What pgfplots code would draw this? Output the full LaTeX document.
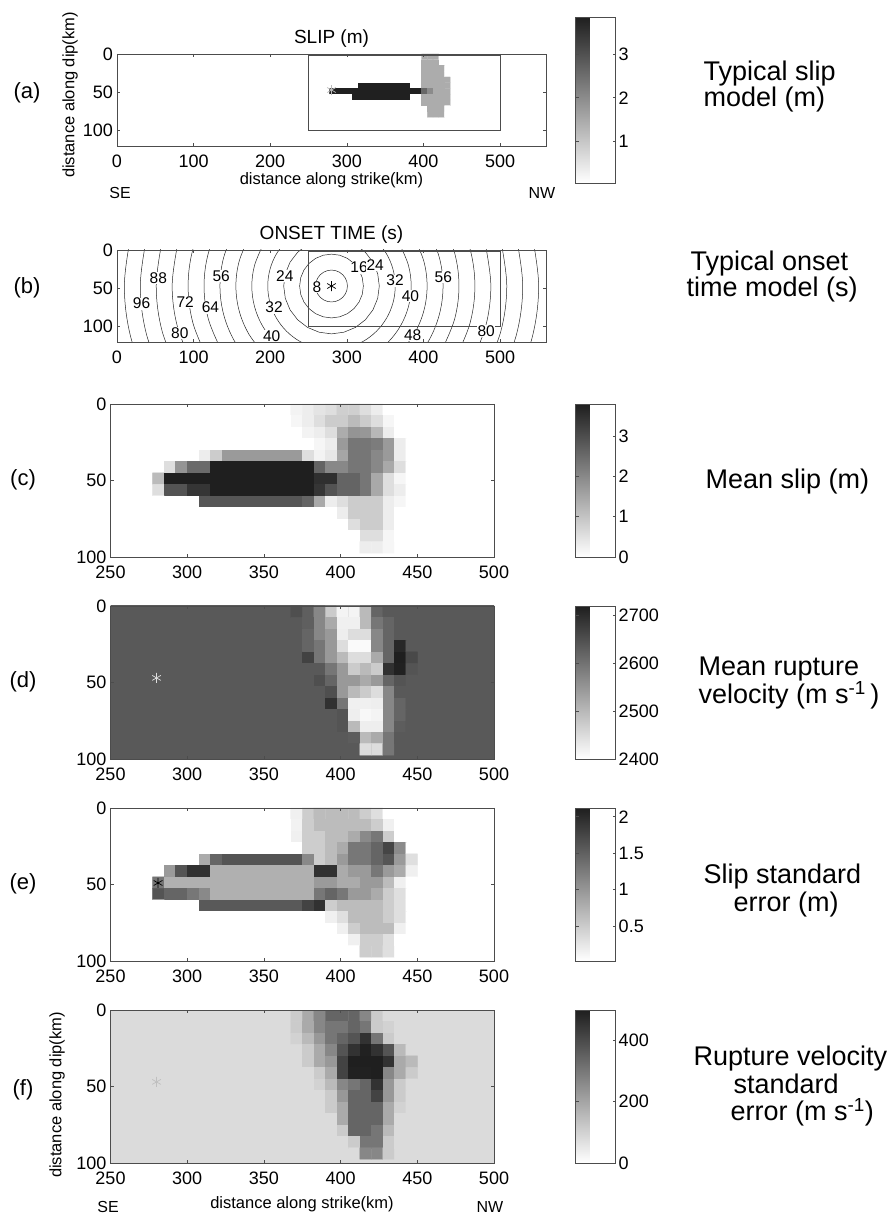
\documentclass[border=0pt]{standalone}
\usepackage{pgfplots}
\pgfplotsset{compat=1.18}
\usepackage{fontspec}
\setmainfont{Liberation Sans}
\newcommand\tk{\fontsize{18}{20}\selectfont}
\newcommand\lb{\fontsize{16.5}{18}\selectfont}
\newcommand\rt{\fontsize{27}{28}\selectfont}
\newcommand\pl{\fontsize{22}{24}\selectfont}
\newcommand\ti{\fontsize{19}{21}\selectfont}
\newcommand\cl{\fontsize{15.5}{17}\selectfont}
\newcommand\sw{\fontsize{16}{18}\selectfont}
\definecolor{axc}{gray}{0.3}
\pgfplotsset{
  colormap={sg}{gray(0cm)=(1) gray(1cm)=(0.12)},
  panel/.style={
    scale only axis, anchor=north west, enlargelimits=false, axis on top,
    y dir=reverse, tick align=inside, major tick length=3pt,
    axis line style={color=axc, line width=0.7pt},
    tick style={color=axc, line width=0.6pt},
    ticklabel style={font=\tk, inner sep=2pt},
    xticklabel style={yshift=-7pt},
    yticklabel style={xshift=-2pt},
    /pgf/number format/assume math mode=true,
    ytick={0,50,100}, colormap name=sg,
  },
  cb/.style 2 args={colorbar, colorbar style={
    at={(parent axis.north east)}, anchor=north west, xshift=#1, yshift=#2,
    scale only axis, width=40pt,
    axis line style={color=axc, line width=0.7pt},
    tick style={color=axc, line width=0.6pt},
    tick align=inside, major tick length=3pt,
    ytick pos=both, yticklabel pos=right,
    yticklabel style={font=\tk, inner sep=2pt, xshift=1pt},
    /pgf/number format/assume math mode=true,
    /pgf/number format/1000 sep={},
    scaled y ticks=false,
  }},
  cl/.style={color=black!85, line width=0.5pt, mark=none},
  cls/.style={color=black!85, line width=0.5pt, mark=none, smooth, tension=0.6},
  star/.style={only marks, mark=asterisk, mark size=5pt, mark options={line width=0.7pt}},
}
\begin{document}
\begin{tikzpicture}
\path[use as bounding box] (0pt,0pt) rectangle (889pt,1215pt);

% ---------------- (a) ----------------
\begin{axis}[panel, at={(117pt,1161pt)}, width=429pt, height=92pt,
  xmin=0, xmax=560, ymin=0, ymax=120, xtick={0,100,...,500},
  point meta min=0.05, point meta max=3.85,
  cb={21pt}{37pt}, colorbar style={height=166pt, ytick={1,2,3}}]
\addplot[matrix plot*, mesh/cols=21, point meta=\thisrow{c}] table[row sep=\\,
  x expr={281.25+7.5*(\coordindex-21*floor((\coordindex+0.5)/21))},
  y expr={3.75+7.5*floor((\coordindex+0.5)/21)}] {
c\\
0\\0\\0\\0\\0\\0\\0\\0\\0\\0\\0\\0\\0\\0\\0\\0\\1.45\\1.45\\1.45\\0\\0\\
0\\0\\0\\0\\0\\0\\0\\0\\0\\0\\0\\0\\0\\0\\0\\0\\1.45\\1.45\\1.45\\0\\0\\
0\\0\\0\\0\\0\\0\\0\\0\\0\\0\\0\\0\\0\\0\\0\\0\\1.45\\1.45\\1.45\\1.45\\0\\
0\\0\\0\\0\\0\\0\\0\\0\\0\\0\\0\\0\\0\\0\\0\\0\\1.45\\1.45\\1.45\\1.45\\0\\
0\\0\\0\\0\\0\\0\\0\\0\\0\\0\\0\\0\\0\\0\\0\\0\\1.45\\1.45\\1.45\\1.45\\1.45\\
0\\0\\0\\0\\0\\3.8\\3.8\\3.8\\3.8\\3.8\\3.8\\3.8\\3.8\\3.8\\0\\0\\1.45\\1.45\\1.45\\1.45\\1.45\\
3.8\\3.8\\3.8\\3.8\\3.8\\3.8\\3.8\\3.8\\3.8\\3.8\\3.8\\3.8\\3.8\\3.8\\3.8\\3.8\\2.6\\2.0\\1.45\\1.45\\1.45\\
0\\0\\0\\0\\3.8\\3.8\\3.8\\3.8\\3.8\\3.8\\3.8\\3.8\\3.8\\3.8\\0\\0\\1.45\\1.45\\1.45\\1.45\\1.45\\
0\\0\\0\\0\\0\\0\\0\\0\\0\\0\\0\\0\\0\\0\\0\\0\\1.45\\1.45\\1.45\\1.45\\1.45\\
0\\0\\0\\0\\0\\0\\0\\0\\0\\0\\0\\0\\0\\0\\0\\0\\0\\1.45\\1.45\\1.45\\0\\
0\\0\\0\\0\\0\\0\\0\\0\\0\\0\\0\\0\\0\\0\\0\\0\\0\\1.45\\1.45\\1.45\\0\\
};
\addplot[color=axc, line width=0.7pt, mark=none] coordinates {(250,1.5) (500,1.5) (500,100) (250,100) (250,1.5)};
\addplot[star, color=gray!55] coordinates {(280,47)};
\end{axis}

% ---------------- (b) ----------------
\begin{axis}[panel, at={(117pt,965pt)}, width=429pt, height=92pt,
  xmin=0, xmax=560, ymin=0, ymax=120, xtick={0,100,...,500}]
% 8 s
\addplot[cl] coordinates {(300.80,47.00) (300.09,52.38) (298.01,57.40) (294.71,61.71) (290.40,65.01) (285.38,67.09) (280.00,67.80) (274.62,67.09) (269.60,65.01) (265.29,61.71) (261.99,57.40) (259.91,52.38) (259.20,47.00) (259.91,41.62) (261.99,36.60) (265.29,32.29) (269.60,28.99) (274.62,26.91) (280.00,26.20) (285.38,26.91) (290.40,28.99) (294.71,32.29) (298.01,36.60) (300.09,41.62) (300.80,47.00)};
% 16 s
\addplot[cl] coordinates {(321.60,47.00) (320.18,57.77) (316.03,67.80) (309.42,76.42) (300.80,83.03) (290.77,87.18) (280.00,88.60) (269.23,87.18) (259.20,83.03) (250.58,76.42) (243.97,67.80) (239.82,57.77) (238.40,47.00) (239.82,36.23) (243.97,26.20) (250.58,17.58) (259.20,10.97) (269.23,6.82) (280.00,5.40) (290.77,6.82) (300.80,10.97) (309.42,17.58) (316.03,26.20) (320.18,36.23) (321.60,47.00)};
% 24 s
\addplot[cl] coordinates {(311.2,-7.04) (324.12,2.88) (334.04,15.8) (340.27,30.85) (342.4,47) (340.27,63.15) (334.04,78.2) (324.12,91.12) (311.2,101.04) (296.15,107.27) (280,109.4) (263.85,107.27) (248.8,101.04) (235.88,91.12) (225.96,78.2) (219.73,63.15) (217.6,47) (219.73,30.85) (225.96,15.8) (235.88,2.88) (248.8,-7.04)};
% 32 s
\addplot[cls] coordinates {(338.83,-11.83) (352.05,5.4) (360.36,25.47) (363.2,47) (360.36,68.53) (352.05,88.6) (338.83,105.83) (321.6,119.05) (301.53,127.36)};
\addplot[cls] coordinates {(221.17,-11.83) (207.95,5.4) (199.64,25.47) (196.8,47) (199.64,68.53) (207.95,88.6) (221.17,105.83) (238.4,119.05) (258.47,127.36)};
% 40 s
\addplot[cls] coordinates {(370.07,-5) (380.45,20.08) (384,47) (380.45,73.92) (370.07,99) (353.54,120.54) (332,137.07)};
\addplot[cls] coordinates {(189.93,-5) (179.55,20.08) (176,47) (179.55,73.92) (189.93,99) (206.46,120.54) (228,137.07)};
% 48 s
\addplot[cls] coordinates {(388.08,-15.4) (400.54,14.7) (404.8,47) (400.54,79.3) (388.08,109.4) (368.25,135.25)};
\addplot[cls] coordinates {(171.92,-15.4) (159.46,14.7) (155.2,47) (159.46,79.3) (171.92,109.4) (191.75,135.25)};
% 56 s
\addplot[cls] coordinates {(406.09,-25.8) (420.64,9.32) (425.6,47) (420.64,84.68) (406.09,119.8) (382.95,149.95)};
\addplot[cls] coordinates {(153.91,-25.8) (139.36,9.32) (134.4,47) (139.36,84.68) (153.91,119.8) (177.05,149.95)};
% 64 s
\addplot[cls] coordinates {(424.10,-36.2) (440.73,3.93) (446.4,47) (440.73,90.07) (424.10,130.2)};
\addplot[cls] coordinates {(135.90,-36.2) (119.27,3.93) (113.6,47) (119.27,90.07) (135.90,130.2)};
% 72 s
\addplot[cls] coordinates {(442.12,-46.6) (460.82,-1.45) (467.2,47) (460.82,95.45) (442.12,140.6)};
\addplot[cls] coordinates {(117.88,-46.6) (99.18,-1.45) (92.8,47) (99.18,95.45) (117.88,140.6)};
% 80 s
\addplot[cls] coordinates {(480.91,-6.83) (488,47) (480.91,100.83) (460.13,151)};
\addplot[cls] coordinates {(79.09,-6.83) (72,47) (79.09,100.83) (99.87,151)};
% 88 s
\addplot[cls] coordinates {(501.0,-12.21) (508.8,47) (501.0,106.21) (478.14,161.4)};
\addplot[cls] coordinates {(59.0,-12.21) (51.2,47) (59.0,106.21) (81.86,161.4)};
% 96 s
\addplot[cls] coordinates {(521.09,-17.6) (529.6,47) (521.09,111.6) (496.15,171.8)};
\addplot[cls] coordinates {(38.91,-17.6) (30.4,47) (38.91,111.6) (63.85,171.8)};
% 104 s
\addplot[cls] coordinates {(541.18,-22.98) (550.4,47) (541.18,116.98) (514.17,182.2)};
\addplot[cls] coordinates {(18.82,-22.98) (9.6,47) (18.82,116.98) (45.83,182.2)};
\addplot[color=axc, line width=0.7pt, mark=none] coordinates {(250,1.5) (500,1.5) (500,100) (250,100) (250,1.5)};
\addplot[draw=none, mark=none, nodes near coords, point meta=explicit symbolic,
  nodes near coords style={font=\cl, fill=white, inner sep=0.6pt, anchor=center}]
  table[meta=l] {
x y l
54 37 88
136 34 56
219 34 24
261 48 8
316 23 16
337 20 24
363 40 32
426 35 56
383 60 40
32 70 96
89 68 72
122 75 64
205 75 32
82 108 80
202 112 40
386 111 48
482 106 80
};
\addplot[star, color=black] coordinates {(280,47)};
\end{axis}

% ---------------- (c) ----------------
\begin{axis}[panel, at={(110.5pt,811pt)}, width=383.5pt, height=153pt,
  xmin=250, xmax=500, ymin=0, ymax=100, xtick={250,300,...,500},
  point meta min=0, point meta max=3.8,
  cb={73pt}{0pt}, colorbar style={height=153pt, ytick={0,1,2,3}}]
\addplot[matrix plot*, mesh/cols=23, point meta=\thisrow{c}] table[row sep=\\,
  x expr={281.25+7.5*(\coordindex-23*floor((\coordindex+0.5)/23))},
  y expr={3.75+7.5*floor((\coordindex+0.5)/23)}] {
c\\
0\\0\\0\\0\\0\\0\\0\\0\\0\\0\\0\\0\\0.2\\0.3\\0.45\\0.55\\0.8\\0.8\\0.55\\0.3\\0\\0\\0\\
0\\0\\0\\0\\0\\0\\0\\0\\0\\0\\0\\0\\0.15\\0.3\\0.55\\0.85\\0.85\\1.15\\0.85\\0.55\\0.15\\0\\0\\
0\\0\\0\\0\\0\\0\\0\\0\\0\\0\\0\\0\\0\\0.2\\0.3\\0.55\\1.4\\1.8\\1.75\\1.2\\0.3\\0\\0\\
0\\0\\0\\0\\0\\0\\0\\0\\0\\0\\0\\0\\0\\0\\0.15\\0.3\\1.7\\2.3\\2.3\\2.2\\1.7\\0.3\\0\\
0\\0\\0\\0\\0.3\\0.85\\1.7\\1.7\\1.7\\1.7\\1.7\\1.7\\1.7\\0.55\\0.2\\0.4\\1.5\\2.3\\2.3\\2.0\\1.7\\0.3\\0\\
0\\0.55\\1.8\\2.5\\2.5\\3.8\\3.8\\3.8\\3.8\\3.8\\3.8\\3.8\\3.8\\3.8\\2.6\\2.0\\2.0\\2.3\\2.3\\2.0\\1.45\\0.55\\0\\
1.15\\3.8\\3.8\\3.8\\3.8\\3.8\\3.8\\3.8\\3.8\\3.8\\3.8\\3.8\\3.8\\3.8\\3.5\\3.5\\2.6\\2.6\\2.3\\1.45\\0.55\\0.15\\0\\
0.55\\2.9\\2.9\\3.4\\3.4\\3.8\\3.8\\3.8\\3.8\\3.8\\3.8\\3.8\\3.8\\3.8\\3.4\\2.9\\2.6\\2.6\\2.3\\1.45\\0.55\\0.3\\0\\
0\\0\\0\\0\\2.85\\2.85\\2.85\\2.85\\2.85\\2.85\\2.85\\2.85\\2.85\\2.6\\1.45\\0.3\\0.55\\0.85\\0.85\\0.85\\0.3\\0.15\\0\\
0\\0\\0\\0\\0\\0\\0\\0\\0\\0\\0\\0\\0\\0\\0\\0\\0.3\\0.85\\0.85\\0.85\\0.3\\0\\0\\
0\\0\\0\\0\\0\\0\\0\\0\\0\\0\\0\\0\\0\\0\\0\\0\\0\\0.55\\0.85\\0.85\\0.3\\0\\0\\
0\\0\\0\\0\\0\\0\\0\\0\\0\\0\\0\\0\\0\\0\\0\\0\\0\\0\\0.55\\0.55\\0.15\\0\\0\\
0\\0\\0\\0\\0\\0\\0\\0\\0\\0\\0\\0\\0\\0\\0\\0\\0\\0\\0.3\\0.3\\0.15\\0\\0\\
};
\end{axis}

% ---------------- (d) ----------------
\begin{axis}[panel, at={(110.5pt,609pt)}, width=383.5pt, height=153pt,
  xmin=250, xmax=500, ymin=0, ymax=100, xtick={250,300,...,500},
  point meta min=2400, point meta max=2720,
  cb={73pt}{0pt}, colorbar style={height=153pt, ytick={2400,2500,2600,2700}}]
\addplot[matrix plot*, mesh/cols=2, point meta=explicit] coordinates {(300,20) [2635] (800,20) [2635] (300,220) [2635] (800,220) [2635]};
\addplot[matrix plot*, mesh/cols=11, point meta=\thisrow{c}] table[row sep=\\,
  x expr={371.25+7.5*(\coordindex-11*floor((\coordindex+0.5)/11))},
  y expr={3.75+7.5*floor((\coordindex+0.5)/11)}] {
c\\
2649\\2627\\2570\\2473\\2415\\2415\\2497\\2618\\2635\\2635\\2635\\
2635\\2627\\2570\\2521\\2421\\2421\\2497\\2594\\2618\\2635\\2635\\
2635\\2618\\2570\\2545\\2424\\2448\\2448\\2570\\2618\\2635\\2635\\
2635\\2618\\2594\\2545\\2448\\2407\\2407\\2570\\2618\\2704\\2635\\
2635\\2667\\2594\\2545\\2497\\2448\\2448\\2521\\2618\\2720\\2658\\
2635\\2635\\2635\\2594\\2545\\2473\\2497\\2473\\2691\\2715\\2642\\
2635\\2635\\2649\\2618\\2545\\2545\\2521\\2545\\2618\\2642\\2635\\
2635\\2635\\2635\\2649\\2545\\2497\\2473\\2448\\2570\\2635\\2635\\
2635\\2635\\2635\\2691\\2594\\2421\\2421\\2424\\2570\\2618\\2635\\
2635\\2635\\2635\\2635\\2642\\2424\\2410\\2415\\2570\\2618\\2635\\
2635\\2635\\2635\\2635\\2642\\2497\\2424\\2424\\2570\\2629\\2635\\
2635\\2635\\2635\\2635\\2635\\2629\\2497\\2521\\2594\\2635\\2635\\
2635\\2635\\2635\\2635\\2635\\2635\\2448\\2448\\2594\\2635\\2635\\
};
\addplot[star, color=gray!25] coordinates {(280,47)};
\end{axis}

% ---------------- (e) ----------------
\begin{axis}[panel, at={(110.5pt,407pt)}, width=383.5pt, height=153pt,
  xmin=250, xmax=500, ymin=0, ymax=100, xtick={250,300,...,500},
  point meta min=0.02, point meta max=2.12,
  cb={73pt}{0pt}, colorbar style={height=153pt, ytick={0.5,1,1.5,2}}]
\addplot[matrix plot*, mesh/cols=23, point meta=\thisrow{c}] table[row sep=\\,
  x expr={281.25+7.5*(\coordindex-23*floor((\coordindex+0.5)/23))},
  y expr={3.75+7.5*floor((\coordindex+0.5)/23)}] {
c\\
0\\0\\0\\0\\0\\0\\0\\0\\0\\0\\0\\0\\0.16\\0.48\\0.64\\0.64\\0.64\\0.64\\0.48\\0.32\\0\\0\\0\\
0\\0\\0\\0\\0\\0\\0\\0\\0\\0\\0\\0\\0.14\\0.48\\0.64\\0.64\\0.64\\0.64\\0.64\\0.48\\0.16\\0\\0\\
0\\0\\0\\0\\0\\0\\0\\0\\0\\0\\0\\0\\0.16\\0.48\\0.48\\0.64\\0.64\\0.8\\1.12\\1.28\\0.48\\0\\0\\
0\\0\\0\\0\\0\\0\\0\\0\\0\\0\\0\\0\\0\\0.48\\0.48\\0.64\\0.8\\1.28\\1.28\\1.45\\1.75\\1.1\\0\\
0\\0\\0\\0\\0.8\\1.45\\1.61\\1.61\\1.61\\1.61\\1.61\\1.61\\1.61\\1.12\\0.48\\0.64\\0.96\\1.28\\1.28\\1.45\\1.6\\0.96\\0.32\\
0\\0.96\\1.61\\1.93\\1.93\\0.75\\0.75\\0.75\\0.75\\0.75\\0.75\\0.75\\0.75\\0.75\\1.93\\1.93\\0.8\\0.96\\0.96\\1.28\\0.96\\0.8\\0.16\\
1.3\\0.75\\0.75\\0.75\\0.75\\0.75\\0.75\\0.75\\0.75\\0.75\\0.75\\0.75\\0.75\\0.75\\0.96\\0.96\\0.8\\0.8\\0.96\\0.96\\0.64\\0.16\\0\\
1.61\\1.45\\1.45\\1.28\\1.12\\0.75\\0.75\\0.75\\0.75\\0.75\\0.75\\0.75\\0.75\\0.75\\1.28\\1.45\\1.28\\0.96\\0.96\\0.8\\0.48\\0.32\\0\\
0\\0\\0\\0\\1.56\\1.56\\1.56\\1.56\\1.56\\1.56\\1.56\\1.56\\1.56\\1.77\\1.93\\0.48\\0.64\\0.64\\0.64\\0.64\\0.48\\0.32\\0\\
0\\0\\0\\0\\0\\0\\0\\0\\0\\0\\0\\0\\0\\0\\0\\0.16\\0.32\\0.64\\0.64\\0.64\\0.48\\0.32\\0\\
0\\0\\0\\0\\0\\0\\0\\0\\0\\0\\0\\0\\0\\0\\0\\0\\0.16\\0.48\\0.64\\0.64\\0.64\\0.16\\0\\
0\\0\\0\\0\\0\\0\\0\\0\\0\\0\\0\\0\\0\\0\\0\\0\\0\\0.16\\0.48\\0.48\\0.32\\0\\0\\
0\\0\\0\\0\\0\\0\\0\\0\\0\\0\\0\\0\\0\\0\\0\\0\\0\\0\\0.48\\0.48\\0.32\\0\\0\\
};
\addplot[star, color=black] coordinates {(281,49)};
\end{axis}

% ---------------- (f) ----------------
\begin{axis}[panel, at={(110.5pt,205pt)}, width=383.5pt, height=153pt,
  xmin=250, xmax=500, ymin=0, ymax=100, xtick={250,300,...,500},
  point meta min=0, point meta max=500,
  cb={73pt}{0pt}, colorbar style={height=153pt, ytick={0,200,400}}]
\addplot[matrix plot*, mesh/cols=2, point meta=explicit] coordinates {(300,20) [80] (800,20) [80] (300,220) [80] (800,220) [80]};
\addplot[matrix plot*, mesh/cols=11, point meta=\thisrow{c}] table[row sep=\\,
  x expr={371.25+7.5*(\coordindex-11*floor((\coordindex+0.5)/11))},
  y expr={3.75+7.5*floor((\coordindex+0.5)/11)}] {
c\\
114\\189\\265\\341\\341\\341\\265\\114\\80\\80\\80\\
114\\189\\265\\303\\303\\341\\303\\114\\100\\80\\80\\
100\\152\\227\\303\\341\\379\\454\\303\\114\\80\\80\\
80\\114\\189\\265\\379\\454\\492\\454\\379\\152\\80\\
80\\114\\189\\227\\416\\500\\500\\500\\454\\189\\152\\
80\\80\\114\\189\\416\\492\\492\\500\\265\\189\\114\\
80\\80\\100\\152\\265\\303\\341\\454\\227\\114\\80\\
80\\80\\80\\114\\227\\341\\341\\416\\227\\114\\80\\
80\\80\\80\\114\\189\\341\\341\\341\\189\\100\\80\\
80\\80\\80\\80\\189\\341\\341\\341\\189\\80\\80\\
80\\80\\80\\80\\114\\341\\341\\303\\152\\80\\80\\
80\\80\\80\\80\\80\\114\\303\\303\\114\\80\\80\\
80\\80\\80\\80\\80\\80\\265\\265\\114\\80\\80\\
};
\addplot[star, color=gray!50] coordinates {(280,47)};
\end{axis}

% ---------------- texts ----------------
\node[font=\ti, anchor=base] at (331.5pt,1171pt) {SLIP (m)};
\node[font=\ti, anchor=base] at (331.5pt,975pt) {ONSET TIME (s)};
\node[font=\pl] at (27pt,1122pt) {(a)};
\node[font=\pl] at (27pt,927pt) {(b)};
\node[font=\pl] at (23pt,735pt) {(c)};
\node[font=\pl] at (23pt,533pt) {(d)};
\node[font=\pl] at (23pt,331pt) {(e)};
\node[font=\pl] at (23pt,125pt) {(f)};
\node[font=\lb, rotate=90] at (70pt,1120pt) {distance along dip(km)};
\node[font=\lb, rotate=90] at (57pt,120pt) {distance along dip(km)};
\node[font=\lb, anchor=base] at (331.5pt,1030pt) {distance along strike(km)};
\node[font=\lb, anchor=base] at (302pt,6pt) {distance along strike(km)};
\node[font=\sw, anchor=base] at (120pt,1016pt) {SE};
\node[font=\sw, anchor=base] at (542pt,1016pt) {NW};
\node[font=\sw, anchor=base] at (108pt,2pt) {SE};
\node[font=\sw, anchor=base] at (490pt,2pt) {NW};
\node[font=\rt, anchor=base west] at (700pt,1134pt) {Typical slip};
\node[font=\rt, anchor=base west] at (700pt,1108pt) {model (m)};
\node[font=\rt, anchor=base west] at (687pt,944pt) {Typical onset};
\node[font=\rt, anchor=base west] at (683pt,918pt) {time model (s)};
\node[font=\rt, anchor=base west] at (702pt,726pt) {Mean slip (m)};
\node[font=\rt, anchor=base west] at (695pt,539pt) {Mean rupture};
\node[font=\rt, anchor=base west] at (695pt,511pt) {velocity (m s\textsuperscript{-1}\,)};
\node[font=\rt, anchor=base west] at (700pt,331pt) {Slip standard};
\node[font=\rt, anchor=base west] at (730pt,303pt) {error (m)};
\node[font=\rt, anchor=base west] at (690pt,149pt) {Rupture velocity};
\node[font=\rt, anchor=base west] at (730pt,121pt) {standard};
\node[font=\rt, anchor=base west] at (727pt,94pt) {error (m s\textsuperscript{-1})};
\end{tikzpicture}
\end{document}
